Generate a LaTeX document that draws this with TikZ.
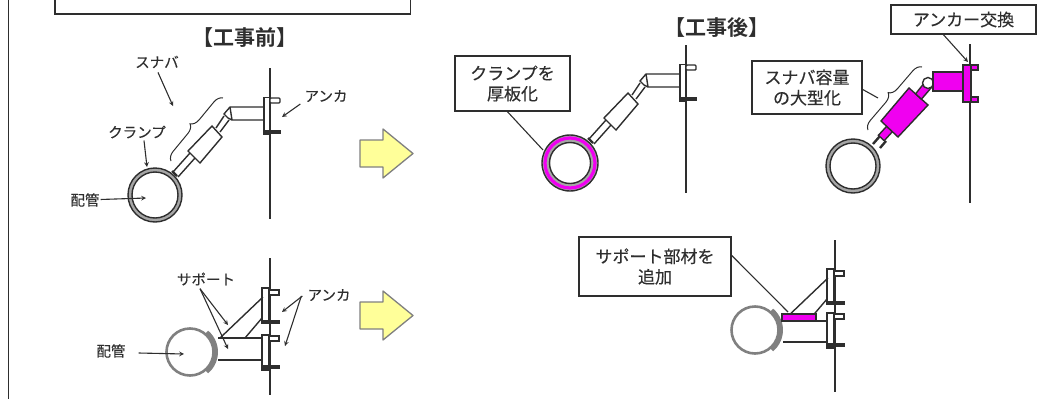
\documentclass[tikz,border=0pt]{standalone}
\usepackage{fontspec}
\newfontfamily\jpfont[FakeBold=0.25]{Noto Sans CJK JP}
\newfontfamily\jpgras{Noto Sans CJK JP Bold}
\usetikzlibrary{decorations.pathreplacing}
\definecolor{encre}{HTML}{2E2E2E}
\definecolor{neuf}{HTML}{F000F0}
\definecolor{tuyau}{HTML}{808080}
\definecolor{jaune}{HTML}{FFFF99}
\tikzset{
  trait/.style={draw=encre,line width=1.4pt},
  titre/.style={font=\jpgras\fontsize{21}{23}\selectfont,text=encre,inner sep=1pt},
  etiq/.style={font=\jpfont\fontsize{14.5}{16}\selectfont,text=encre,inner sep=1pt},
  boite/.style={draw=encre,line width=1.5pt,fill=white,align=center,inner sep=0pt,
    font=\jpfont\fontsize{17}{20.5}\selectfont,text=encre},
  renvoi/.style={draw=encre,line width=1.1pt},
  fleche/.style={renvoi,->,>=stealth},
  accolade/.style={draw=encre,line width=1pt,decorate,decoration={brace,amplitude=9pt}},
  bloc/.style={draw=tuyau,line width=1.3pt,fill=jaune,line join=round}
}
\begin{document}
\begin{tikzpicture}[x=1pt,y=-1pt]
  \useasboundingbox (0,0) rectangle (1041,399);
  % cadre
  \draw[line width=1.8pt,draw=encre] (8.5,0) -- (8.5,399);
  \draw[line width=1.5pt,draw=encre] (55,0) -- (55,14) -- (410.5,14) -- (410.5,0);
  \node[titre] (avant) at (245,38) {【工事前】};
  \node[titre] (apres) at (717,28) {【工事後】};
  % murs
  \foreach \x/\ya/\yb in {270/68/219,686/45/193,970/44/203,270/258/395,835/240/392}
    \draw[line width=1.5pt,draw=encre] (\x,\ya) -- (\x,\yb);
  % amortisseur avant, deux fois
  \foreach \dx/\dy in {0/0,416/-33}{
    \begin{scope}[shift={(\dx,\dy)}]
      \draw[trait,line width=2.4pt] (177,176) -- (172,171);
      \draw[trait] (190,153) -- (173,172) (195,158) -- (178,177);
      \draw[trait,fill=white] (212,126) -- (222,137) -- (200,163) -- (188,151) -- cycle;
      \draw[trait] (216,128) -- (224,116) (220,132) -- (229,120);
      \draw[trait,fill=white] (224,114) -- (230,107) -- (264,107) -- (264,120) -- (232,120) -- (228,118) -- cycle;
      \draw[trait] (230,107) -- (232,120);
      \draw[trait,fill=white] (264,97.5) rectangle (270,134);
      \draw[trait,fill=white,rounded corners=1pt] (270,98) rectangle (280,103);
      \draw[trait,fill=encre] (264,131) rectangle (280,133.5);
    \end{scope}
  }
  % tuyaux
  \draw[trait,fill=tuyau!70,even odd rule] (155,195) circle (27) circle (23);
  \draw[trait,fill=tuyau!70,even odd rule] (570,163) circle (28) circle (20.5);
  \draw[draw=neuf,line width=3.2pt] (570,163) circle (25);
  \draw[trait,fill=tuyau!70,even odd rule] (853,166) circle (27) circle (23);
  % amortisseur apres, agrandi
  \draw[trait,line width=2.4pt] (873,144) -- (880,136) (880,148) -- (886,141);
  \draw[trait,fill=neuf] (886.6,126.3) -- (892.4,131.7) -- (884.2,140.7) -- (878.4,135.3) -- cycle;
  \draw[trait,fill=neuf] (909,88) -- (928,105) -- (898,137) -- (881,121) -- cycle;
  \draw[trait,fill=neuf] (915.6,93.8) -- (921.4,99.2) -- (931,88) -- (925,82) -- cycle;
  \draw[trait,fill=white] (928,83) circle (5.5);
  \draw[trait,fill=neuf] (933,72) rectangle (963,91);
  \draw[trait,fill=neuf] (963,65) rectangle (971,102);
  \draw[trait,fill=neuf] (971,65) rectangle (978,70);
  \draw[trait,fill=neuf] (971,97) rectangle (978,102);
  % supports, deux fois
  \foreach \dx/\dy in {0/0,565/-19}{
    \begin{scope}[shift={(\dx,\dy)}]
      \draw[trait,fill=white] (262,288) rectangle (269,322);
      \draw[trait,fill=white] (269,290) rectangle (279,295);
      \draw[trait,fill=encre] (262,320.5) rectangle (279,323);
      \draw[trait] (220,338) -- (263,297) (245,338) -- (262,318);
    \end{scope}
  }
  \foreach \dx/\dy in {0/0,565/-22}{
    \begin{scope}[shift={(\dx,\dy)}]
      \draw[draw=tuyau,line width=2.6pt] (190,352) circle (23.5);
      \draw[draw=tuyau,line width=5pt] (190,352) ++(-50:25.5) arc (-50:50:25.5);
      \draw[trait,fill=white] (262,335) rectangle (269,370);
      \draw[trait,fill=white] (269,336) rectangle (279,341);
      \draw[trait,fill=encre] (262,366) rectangle (279,368.5);
    \end{scope}
  }
  \draw[trait] (218,338) -- (262,338) (218,360) -- (262,360);
  \draw[trait] (783,321) -- (827,321) (783,342) -- (827,342);
  \draw[trait,fill=neuf] (782,314) rectangle (816,321);
  % fleches jaunes
  \foreach \dy in {0,162}
    \draw[bloc,shift={(0,\dy)}] (360,140) -- (383,140) -- (383,129) -- (413,153.5) -- (383,178) -- (383,167) -- (360,167) -- cycle;
  % accolades
  \draw[accolade] (171,161) -- (223,98);
  \draw[accolade] (868,130) -- (922,67);
  % textes et fleches
  \node[etiq] (snubber) at (157,62) {スナバ};
  \node[etiq] (clamp) at (137,132) {クランプ};
  \node[etiq] (pipea) at (85,200) {配管};
  \node[etiq] (anchora) at (326,96) {アンカ};
  \node[etiq] (supportb) at (206,279) {サポート};
  \node[etiq] (anchorb) at (329,295) {アンカ};
  \node[etiq] (pipeb) at (111,351) {配管};
  \coordinate (snubbertip) at (173,106);
  \coordinate (clamptip) at (147,167);
  \coordinate (pipeatip) at (146,198);
  \coordinate (anchoratip) at (282,117);
  \coordinate (supporttipa) at (228,325);
  \coordinate (supporttipb) at (228,349);
  \coordinate (anchortipa) at (282,312);
  \coordinate (anchortipb) at (285,346);
  \coordinate (pipebtip) at (184,354);
  \draw[fleche] (snubber.south) ++(1,3) -- (snubbertip);
  \draw[fleche] (clamp.south) ++(7,1) -- (clamptip);
  \draw[fleche] (pipea) -- (pipeatip);
  \draw[fleche] (anchora.west) ++(-3,8) -- (anchoratip);
  \draw[fleche] (supportb.south) ++(-6,2) -- (supporttipa);
  \draw[fleche] (supportb.south) ++(-6,2) -- (supporttipb);
  \draw[fleche] (anchorb.west) ++(-4,1) -- (anchortipa);
  \draw[fleche] (anchorb.west) ++(-5,1) -- (anchortipb);
  \draw[fleche] (pipeb.east) ++(12,2) -- (pipebtip);
  % boites
  \node[boite,minimum width=115pt,minimum height=55pt] (thick) at (512.5,83.5) {クランプを\\厚板化};
  \node[boite,minimum width=110pt,minimum height=53pt] (large) at (807,87.5) {スナバ容量\\の大型化};
  \node[boite,minimum width=145pt,minimum height=29pt] (swap) at (963.5,19.5) {アンカー交換};
  \node[boite,minimum width=152pt,minimum height=59pt] (addsup) at (655,266.5) {サポート部材を\\追加};
  \coordinate (thicktip) at (543,150);
  \coordinate (largetip) at (878,98);
  \coordinate (swaptip) at (968,62);
  \coordinate (addtip) at (788,312);
  \draw[renvoi] (thick.south) ++(-5,0) -- (thicktip);
  \draw[renvoi] (large.east) ++(0,2) -- (largetip);
  \draw[fleche] (swap.south) ++(-20,0) -- (swaptip);
  \draw[renvoi] (addsup.east) ++(0,-11) -- (addtip);
\end{tikzpicture}
\end{document}
